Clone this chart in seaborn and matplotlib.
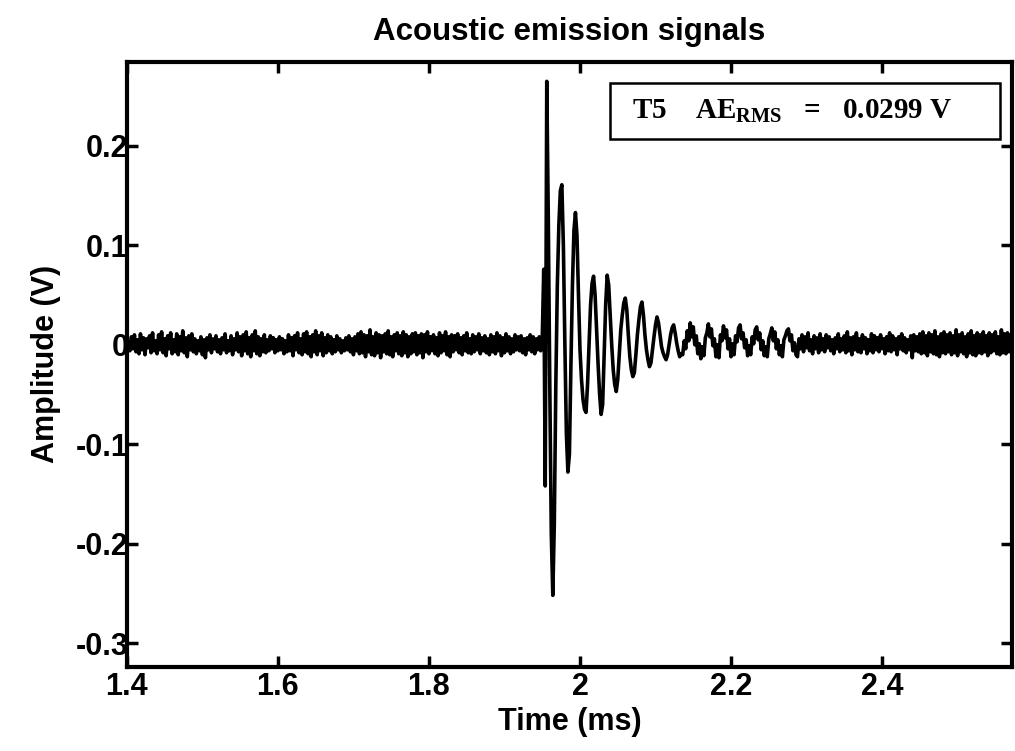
import numpy as np
import seaborn as sns
import matplotlib
matplotlib.use("Agg")
import matplotlib.pyplot as plt
from matplotlib.patches import Rectangle

# signal recorded on a 0.002 ms grid starting at 1.4 ms, values in mV
t_start = 1.4
t_step = 0.002

# background noise before the burst
noise_before = [
    4,
    3, -6, 8, -4, 10, -7, 5, -9, 11, -5, 7, -10, 6, -3, 9, -8, 12, -6, 4, -9,
    10, -5, 13, -8, 6, -11, 9, -4, 12, -9, 5, -7, 11, -10, 8, -6, 14, -8, 7, -12,
    9, -5, 11, -7, 6, -9, 4, -6, 8, -10, 5, -13, 7, -5, 10, -8, 6, -4, 9, -7,
    5, -9, 7, -5, 11, -8, 4, -6, 9, -10, 6, -5, 12, -7, 8, -11, 10, -6, 13, -9,
    7, -12, 10, -6, 14, -9, 8, -11, 6, -7, 10, -8, 5, -6, 9, -4, 7, -8, 5, -6,
    8, -5, 6, -9, 4, -7, 10, -6, 7, -11, 9, -5, 12, -8, 6, -10, 11, -7, 13, -9,
    8, -12, 10, -7, 14, -10, 9, -6, 12, -11, 7, -8, 10, -6, 8, -9, 5, -7, 9, -5,
    6, -8, 4, -6, 7, -5, 9, -7, 6, -10, 8, -6, 11, -9, 13, -8, 10, -12, 9, -7,
    15, -10, 8, -11, 12, -8, 10, -13, 9, -7, 11, -9, 14, -10, 8, -12, 10, -6, 12, -9,
    9, -11, 13, -8, 10, -12, 8, -9, 11, -7, 12, -10, 9, -8, 11, -13, 10, -7, 13, -9,
    8, -6, 10, -9, 7, -11, 12, -8, 9, -6, 13, -10, 8, -12, 10, -7, 9, -5, 11, -8,
    7, -10, 9, -6, 12, -8, 6, -9, 10, -7, 8, -5, 11, -9, 7, -6, 9, -8, 6, -10,
    10, -7, 8, -9, 12, -6, 9, -11, 7, -8, 11, -6, 8, -9, 6, -7, 10, -5, 8, -6,
    9, -8, 6, -10, 7, -5, 10, -7, 8, -9, 6, -5, 8, -6, 5,
]

# acoustic emission burst
burst = [
    76, -142, 265, 130, -40, -190, -252, -180, -40, 60,
    120, 155, 161, 100, 0, -90, -128, -110, -20, 60,
    115, 133, 110, 50, -5, -35, -55, -65, -68, -40,
    0, 40, 62, 69, 50, 15, -20, -50, -70, -60,
    -10, 40, 70, 60, 30, 0, -25, -40, -47, -35,
    -10, 15, 30, 42, 47, 35, 10, -12, -25, -32,
    -28, -10, 10, 25, 38, 43, 30, 10, -5, -15,
    -22, -18, -5, 8, 20, 28, 22, 10, -2, -8,
    -12, -15, -10, 0, 10, 17, 20, 12, 2, -6, -12, -9,
]

# ringing tail mixed with noise
tail = [
    -10, 4, -4, 14, 4, 22, 8, 18, 0, 9, -9, 1, -14, -2, -11, 7, 12, 21, 8, 16,
    -1, 6, -12, 0, -13, 10, 4, 19, 7, 15, -4, 6, -12, 1, -10, 9, 3, 17, 20, 6,
    12, -3, 5, -11, -1, -10, 8, 1, 15, 18, 5, 12, -5, 4, -11, -2, -12, 6, 11, 17,
    4, 13, -4, 5, -10, -1, -12, 5, 9, 14, 16, 4, 10, -6, 2, -10, -12,
]

# background noise after the burst
noise_after = [
    6, -4, 10, -7, 8, -3, 12, -6, 5, -9, 9, -4, 7, -8, 11, -5, 6, -7, 10, -3,
    8, -6, 5, -9, 7, -4, 11, -7, 6, -5, 9, -8, 13, -6, 7, -10, 8, -5, 12, -7,
    6, -8, 10, -4, 7, -9, 5, -6, 11, -8, 9, -5, 7, -7, 10, -4, 6, -9, 8, -6,
    12, -7, 9, -5, 6, -10, 8, -4, 11, -6, 7, -8, 5, -5, 9, -13, 10, -6, 8, -7,
    11, -9, 13, -8, 9, -11, 12, -7, 10, -9, 14, -10, 8, -12, 11, -8, 13, -9, 10, -7,
    12, -10, 9, -8, 15, -11, 10, -7, 12, -9, 8, -12, 11, -8, 14, -10, 9, -11, 12, -8,
    10, -9, 13, -7, 9, -11, 12, -8, 10, -6, 13, -9, 8, -10, 15, -8, 11, -9, 12, -7, 10, -8, 9,
]

x_ticks = [1.4, 1.6, 1.8, 2.0, 2.2, 2.4]
x_tick_labels = ["1.4", "1.6", "1.8", "2", "2.2", "2.4"]
y_ticks = [-0.3, -0.2, -0.1, 0.0, 0.1, 0.2]
y_tick_labels = ["-0.3", "-0.2", "-0.1", "0", "0.1", "0.2"]

amp = np.array(noise_before + burst + tail + noise_after) / 1000.0
time = t_start + t_step * np.arange(len(amp))

sns.set_style("ticks")
plt.rcParams["font.family"] = ["Liberation Sans", "DejaVu Sans"]
plt.rcParams["mathtext.fontset"] = "custom"
plt.rcParams["mathtext.bf"] = "Liberation Serif:bold"
plt.rcParams["mathtext.rm"] = "Liberation Serif:bold"
plt.rcParams["text.color"] = "black"
plt.rcParams["axes.labelcolor"] = "black"
plt.rcParams["xtick.color"] = "black"
plt.rcParams["ytick.color"] = "black"

fig = plt.figure(figsize=(10.15, 7.51), dpi=100)
ax = fig.add_axes([0.125, 0.112, 0.872, 0.8055])

sns.lineplot(x=time, y=amp, color="black", linewidth=2.6, sort=False,
             estimator=None, ax=ax)

ax.set_xlim(1.4, 2.572)
ax.set_ylim(-0.324, 0.2845)
ax.set_xticks(x_ticks)
ax.set_xticklabels(x_tick_labels)
ax.set_yticks(y_ticks)
ax.set_yticklabels(y_tick_labels)
ax.tick_params(direction="in", length=8, width=2.5, top=True, right=True,
               labelsize=22, colors="black")
ax.tick_params(axis="x", pad=4)
ax.tick_params(axis="y", pad=-1)
for lbl in ax.get_xticklabels() + ax.get_yticklabels():
    lbl.set_fontweight("bold")
for sp in ax.spines.values():
    sp.set_visible(True)
    sp.set_linewidth(3)
    sp.set_color("black")

ax.set_title("Acoustic emission signals", fontsize=22.5, fontweight="bold",
             pad=16, color="black")
ax.set_xlabel("Time (ms)", fontsize=22, fontweight="bold", labelpad=3)
ax.set_ylabel("Amplitude (V)", fontsize=22, fontweight="bold", labelpad=10)

# annotation box
ax.add_patch(Rectangle((0.546, 0.873), 0.44, 0.092, transform=ax.transAxes,
                       facecolor="white", edgecolor="black", linewidth=1.8,
                       zorder=5))
ax.text(0.571, 0.919, "T5    AE$_{\\mathbf{RMS}}$   =   0.0299 V",
        transform=ax.transAxes, ha="left", va="center", fontsize=21,
        family="Liberation Serif", fontweight="bold", color="black", zorder=6)

fig.savefig("out.png", dpi=100)
